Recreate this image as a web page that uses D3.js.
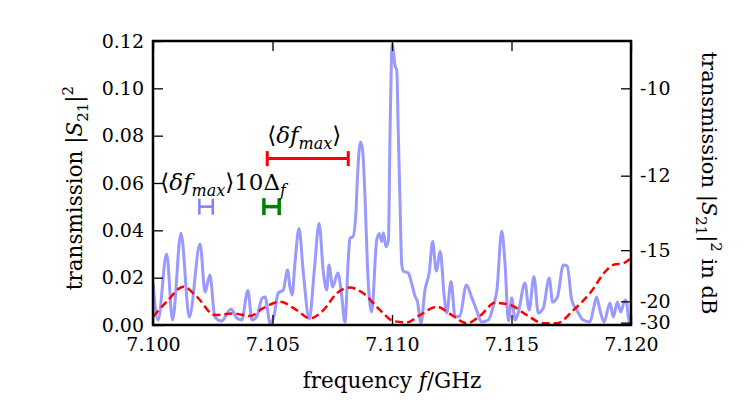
<!DOCTYPE html>
<html>
<head>
<meta charset="utf-8">
<script src="https://cdn.jsdelivr.net/npm/d3@7"></script>
<style>
  body { margin: 0; background: #fff; }
  svg { font-family: 'DejaVu Serif', serif; font-size: 18px; }
</style>
</head>
<body>
<svg width="746" height="407"></svg>
<script>
// measured transmission |S21|^2 vs frequency (GHz)
const freqs = [
  7.10000, 7.10021, 7.10057, 7.10082, 7.10117, 7.10152, 7.10197, 7.10218, 7.10238, 7.10259,
  7.10287, 7.10326, 7.10350, 7.10371, 7.10397, 7.10414, 7.10434, 7.10457, 7.10469, 7.10490,
  7.10506, 7.10524, 7.10545, 7.10563, 7.10573, 7.10582, 7.10594, 7.10611, 7.10629, 7.10654,
  7.10675, 7.10695, 7.10713, 7.10727, 7.10736, 7.10752, 7.10773, 7.10787, 7.10803, 7.10817,
  7.10824, 7.10836, 7.10849, 7.10855, 7.10868, 7.10877, 7.10887, 7.10898, 7.10915, 7.10936,
  7.10947, 7.10957, 7.10964, 7.10975, 7.10985, 7.10992, 7.11001, 7.11013, 7.11020, 7.11026,
  7.11033, 7.11041, 7.11047, 7.11068, 7.11082, 7.11096, 7.11107, 7.11121, 7.11138, 7.11156,
  7.11170, 7.11185, 7.11202, 7.11218, 7.11229, 7.11247, 7.11264, 7.11284, 7.11311, 7.11333,
  7.11354, 7.11375, 7.11403, 7.11424, 7.11439, 7.11459, 7.11473, 7.11487, 7.11501, 7.11515,
  7.11528, 7.11556, 7.11574, 7.11594, 7.11612, 7.11633, 7.11658, 7.11672, 7.11692, 7.11717,
  7.11733, 7.11752, 7.11773, 7.11800, 7.11828, 7.11842, 7.11856, 7.11870, 7.11887, 7.11912,
  7.11926, 7.11943, 7.11957, 7.11975, 7.11982, 7.11989, 7.11996
];
const transmission = [
  0.0177, 0.0021, 0.0300, 0.0021, 0.0389, 0.0034, 0.0342, 0.0139, 0.0211, 0.0034,
  0.0017, 0.0068, 0.0030, 0.0021, 0.0146, 0.0021, 0.0035, 0.0114, 0.0118, 0.0008,
  0.0038, 0.0135, 0.0148, 0.0232, 0.0161, 0.0127, 0.0262, 0.0408, 0.0220, 0.0025,
  0.0232, 0.0429, 0.0220, 0.0148, 0.0254, 0.0161, 0.0220, 0.0148, 0.0013, 0.0275,
  0.0368, 0.0372, 0.0473, 0.0613, 0.0773, 0.0739, 0.0541, 0.0232, 0.0055, 0.0359,
  0.0387, 0.0353, 0.0389, 0.0330, 0.0359, 0.0824, 0.1187, 0.1094, 0.1077, 0.0824,
  0.0541, 0.0254, 0.0228, 0.0220, 0.0177, 0.0123, 0.0097, 0.0008, 0.0148, 0.0224,
  0.0353, 0.0228, 0.0311, 0.0127, 0.0051, 0.0184, 0.0034, 0.0038, 0.0169, 0.0118,
  0.0063, 0.0013, 0.0021, 0.0080, 0.0148, 0.0397, 0.0258, 0.0017, 0.0114, 0.0021,
  0.0051, 0.0177, 0.0063, 0.0205, 0.0051, 0.0072, 0.0199, 0.0097, 0.0118, 0.0254,
  0.0249, 0.0106, 0.0063, 0.0021, 0.0013, 0.0063, 0.0118, 0.0063, 0.0013, 0.0093,
  0.0034, 0.0097, 0.0055, 0.0106, 0.0093, 0.0034, 0.0004
];

// smooth model curve (dashed)
const modelFreqs = [
  7.10000, 7.10057, 7.10127, 7.10183, 7.10259, 7.10336, 7.10406, 7.10461, 7.10531, 7.10601,
  7.10657, 7.10713, 7.10769, 7.10824, 7.10880, 7.10950, 7.11005, 7.11061, 7.11117, 7.11187,
  7.11256, 7.11313, 7.11368, 7.11431, 7.11494, 7.11564, 7.11633, 7.11689, 7.11759, 7.11828,
  7.11898, 7.11926, 7.11968, 7.11996
];
const modelValues = [
  0.0035, 0.0098, 0.0162, 0.0120, 0.0042, 0.0049, 0.0038, 0.0071, 0.0098, 0.0063,
  0.0028, 0.0063, 0.0134, 0.0158, 0.0134, 0.0063, 0.0017, 0.0011, 0.0042, 0.0077,
  0.0038, 0.0007, 0.0038, 0.0094, 0.0085, 0.0042, 0.0007, 0.0007, 0.0063, 0.0134,
  0.0232, 0.0254, 0.0261, 0.0279
];

const xTicks = [7.100, 7.105, 7.110, 7.115, 7.120];
const yTicks = [0.00, 0.02, 0.04, 0.06, 0.08, 0.10, 0.12];
const dbTicks = [-10, -12, -15, -20, -30];

// horizontal error bars: [from, to, level]
const widthBar = [7.10478, 7.10817, 0.0703];
const blueBar = [7.10194, 7.10250, 0.0500];
const greenBar = [7.10464, 7.10528, 0.0500];

const svg = d3.select('svg');
const margin = { top: 41, right: 115, bottom: 82, left: 153 };
const width = +svg.attr('width') - margin.left - margin.right;
const height = +svg.attr('height') - margin.top - margin.bottom;

const x = d3.scaleLinear().domain([7.100, 7.120]).range([0, width]);
const y = d3.scaleLinear().domain([0, 0.12]).range([height, 0]);

const g = svg.append('g').attr('transform', `translate(${margin.left},${margin.top})`);

g.append('clipPath').attr('id', 'clip')
  .append('rect').attr('width', width).attr('height', height);

const line = d3.line()
  .x(d => x(d[0]))
  .y(d => y(d[1]))
  .curve(d3.curveMonotoneX);

g.append('path')
  .datum(d3.zip(freqs, transmission))
  .attr('clip-path', 'url(#clip)')
  .attr('fill', 'none')
  .attr('stroke', '#9999ff')
  .attr('stroke-width', 3)
  .attr('stroke-linejoin', 'round')
  .attr('d', line);

g.append('path')
  .datum(d3.zip(modelFreqs, modelValues))
  .attr('clip-path', 'url(#clip)')
  .attr('fill', 'none')
  .attr('stroke', '#ff0000')
  .attr('stroke-width', 2.5)
  .attr('stroke-dasharray', '8,4')
  .attr('d', line);

const errorBar = (bar, color, lw, cap) => {
  const [a, b, v] = bar;
  const eg = g.append('g').attr('stroke', color).attr('stroke-width', lw);
  eg.append('line').attr('x1', x(a)).attr('x2', x(b)).attr('y1', y(v)).attr('y2', y(v));
  [a, b].forEach(f => {
    eg.append('line').attr('x1', x(f)).attr('x2', x(f))
      .attr('y1', y(v) - cap).attr('y2', y(v) + cap);
  });
};
errorBar(widthBar, '#ff0000', 3, 7.5);
errorBar(blueBar, '#8080ff', 2.5, 8);
errorBar(greenBar, '#008000', 3.5, 8.5);

// text with sub/superscripts; shift > 0 is down
const richText = (sel, parts, size) => {
  let shift = 0;
  sel.attr('font-size', size);
  parts.forEach(([str, s = 0, italic = false]) => {
    sel.append('tspan')
      .attr('dy', s - shift)
      .attr('font-size', s ? Math.round(size * 0.7) : null)
      .attr('font-style', italic ? 'italic' : null)
      .text(str);
    shift = s;
  });
  return sel;
};

g.append('text')
  .attr('x', x(widthBar[0]))
  .attr('y', y(0.0769))
  .call(richText, [['\u27E8'], ['\u03B4f', 0, true], ['max', 6, true], ['\u27E9']], 23);

g.append('text')
  .attr('x', x(7.10030))
  .attr('y', y(0.0570))
  .call(richText, [['\u27E8'], ['\u03B4f', 0, true], ['max', 6, true], ['\u27E910\u0394'], ['f', 6, true]], 23);

// axes, ticks pointing inward
const styleAxis = sel => {
  sel.select('.domain').remove();
  sel.attr('font-family', null).attr('font-size', 19);
  sel.selectAll('.tick line').attr('stroke-width', 1.3);
  sel.selectAll('.tick text').attr('fill', '#000');
};

g.append('g')
  .attr('transform', `translate(0,${height})`)
  .call(d3.axisBottom(x).tickValues(xTicks).tickFormat(d3.format('.3f')).tickSize(-10).tickPadding(13))
  .call(styleAxis);

g.append('g')
  .call(d3.axisTop(x).tickValues(xTicks).tickFormat('').tickSize(-10))
  .call(styleAxis);

g.append('g')
  .call(d3.axisLeft(y).tickValues(yTicks).tickFormat(d3.format('.2f')).tickSize(-10).tickPadding(9))
  .call(styleAxis);

g.append('g')
  .attr('transform', `translate(${width},0)`)
  .call(d3.axisRight(y)
    .tickValues(dbTicks.map(d => Math.pow(10, d / 10)))
    .tickFormat((d, i) => dbTicks[i])
    .tickSize(-10).tickPadding(9))
  .call(styleAxis);

g.append('rect')
  .attr('width', width)
  .attr('height', height)
  .attr('fill', 'none')
  .attr('stroke', '#000')
  .attr('stroke-width', 2.5);

g.append('text')
  .attr('x', width / 2)
  .attr('y', height + 63)
  .attr('text-anchor', 'middle')
  .call(richText, [['frequency '], ['f', 0, true], ['/GHz']], 21.5);

g.append('text')
  .attr('transform', `translate(${-71},${height / 2 + 5}) rotate(-90)`)
  .attr('text-anchor', 'middle')
  .call(richText, [['transmission |'], ['S', 0, true], ['21', 6], ['|'], ['2', -9]], 21.5);

g.append('text')
  .attr('transform', `translate(${width + 71},${height / 2}) rotate(90)`)
  .attr('text-anchor', 'middle')
  .call(richText, [['transmission |'], ['S', 0, true], ['21', 6], ['|'], ['2', -9], [' in dB']], 21);
</script>
</body>
</html>
